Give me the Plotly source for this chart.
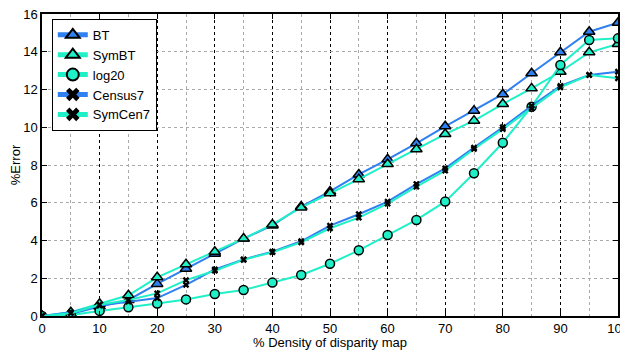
import plotly.graph_objects as go

density = [0, 5, 10, 15, 20, 25, 30, 35, 40, 45, 50, 55, 60, 65, 70, 75, 80, 85, 90, 95, 100]
bt      = [0.0, 0.1, 0.5, 0.85, 1.7, 2.5, 3.3, 4.1, 4.8, 5.8, 6.6, 7.5, 8.3, 9.15, 10.05, 10.88, 11.75, 12.86, 13.97, 15.06, 15.54]
symbt   = [0.0, 0.2, 0.65, 1.1, 2.05, 2.74, 3.4, 4.1, 4.85, 5.75, 6.5, 7.25, 8.05, 8.83, 9.64, 10.35, 11.23, 12.06, 12.94, 13.97, 14.41]
log20   = [0.0, 0.05, 0.27, 0.46, 0.66, 0.88, 1.17, 1.38, 1.77, 2.17, 2.77, 3.48, 4.29, 5.09, 6.06, 7.56, 9.18, 11.09, 13.3, 14.62, 14.71]
census7 = [0.0, 0.2, 0.55, 0.76, 0.95, 1.65, 2.47, 3.0, 3.41, 3.96, 4.79, 5.39, 6.06, 6.99, 7.82, 8.92, 10.0, 11.13, 12.19, 12.77, 12.94]
symcen7 = [0.0, 0.15, 0.6, 0.85, 1.2, 1.9, 2.4, 2.98, 3.38, 3.9, 4.65, 5.21, 5.95, 6.85, 7.7, 8.85, 9.9, 11.0, 12.12, 12.77, 12.59]

x_ticks = [0, 10, 20, 30, 40, 50, 60, 70, 80, 90, 100]
y_ticks = [0, 2, 4, 6, 8, 10, 12, 14, 16]

BLUE = "#2f80f0"
CYAN = "#20f0c8"

series = [
    ("BT", bt, BLUE, "triangle-up", 10, BLUE, 1.5),
    ("SymBT", symbt, CYAN, "triangle-up", 10, CYAN, 1.5),
    ("log20", log20, CYAN, "circle", 9, CYAN, 1.5),
    ("Census7", census7, BLUE, "x", 6, "black", 0),
    ("SymCen7", symcen7, CYAN, "x", 6, "black", 0),
]

fig = go.Figure()
for name, ys, col, sym, sz, fill, lw in series:
    fig.add_trace(go.Scatter(
        x=density, y=ys, name=name, mode="lines+markers",
        line=dict(color=col, width=2),
        marker=dict(symbol=sym, size=sz, color=fill,
                    line=dict(color="black", width=lw)),
    ))

axis_common = dict(
    showline=True, linecolor="black", linewidth=1.5, mirror="ticks",
    ticks="inside", ticklen=5, tickcolor="black", zeroline=False,
    tickfont=dict(size=13, color="black"), automargin=False,
    ticklabeloverflow="allow",
)

fig.update_xaxes(
    range=[0, 100], tickvals=x_ticks, **axis_common,
    showgrid=True, gridcolor="black", griddash="dot", gridwidth=1,
    minor=dict(dtick=5, showgrid=True, gridcolor="#aaaaaa", griddash="dot", gridwidth=1, ticks=""),
    title=dict(text="% Density of disparity map", font=dict(size=13, color="black"), standoff=0),
)
fig.update_yaxes(
    range=[0, 16], tickvals=y_ticks, **axis_common,
    showgrid=True, gridcolor="#aaaaaa", griddash="dot", gridwidth=1,
    title=dict(text="%Error", font=dict(size=13, color="black"), standoff=8),
)

# page body has an 8px default margin, so the figure starts at (8, 8)
fig.update_layout(
    width=620, height=342,
    margin=dict(l=34, r=10, t=6, b=34),
    paper_bgcolor="white", plot_bgcolor="white",
    font=dict(family="Liberation Sans, Arial, sans-serif", size=13, color="black"),
    legend=dict(x=0.017, y=0.984, xanchor="left", yanchor="top",
                bgcolor="white", bordercolor="black", borderwidth=1,
                font=dict(size=13), tracegroupgap=0, itemsizing="constant",
                itemwidth=30),
    showlegend=True,
)

fig.write_html("out.html")
